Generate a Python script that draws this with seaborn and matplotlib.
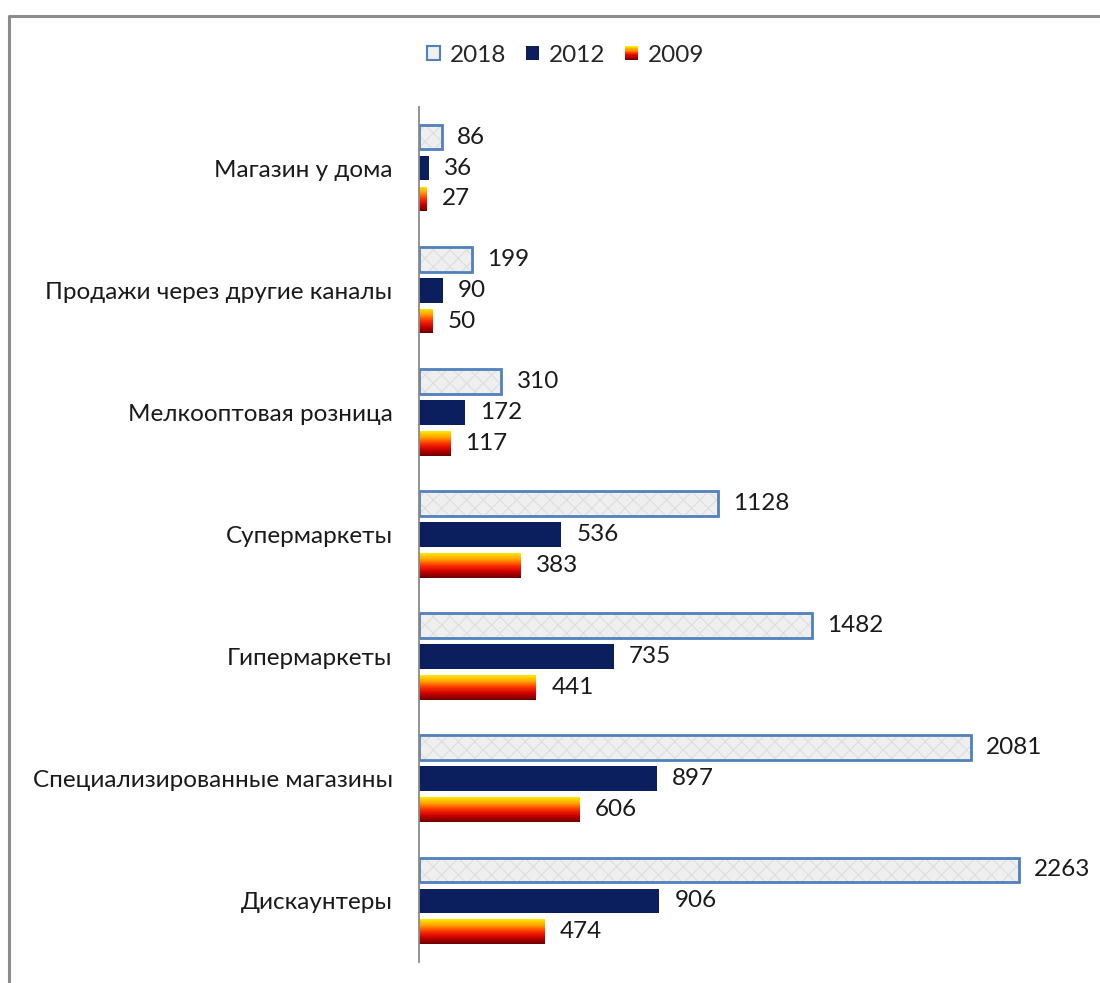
import numpy as np
import pandas as pd
import seaborn as sns
import matplotlib.pyplot as plt
from matplotlib.patches import Rectangle, Patch
from matplotlib.legend_handler import HandlerBase
from matplotlib.colors import LinearSegmentedColormap
from matplotlib.lines import Line2D

categories = [
    "Магазин у дома",
    "Продажи через другие каналы",
    "Мелкооптовая розница",
    "Супермаркеты",
    "Гипермаркеты",
    "Специализированные магазины",
    "Дискаунтеры",
]
years = ["2018", "2012", "2009"]
v2018 = [86, 199, 310, 1128, 1482, 2081, 2263]
v2012 = [36, 90, 172, 536, 735, 897, 906]
v2009 = [27, 50, 117, 383, 441, 606, 474]

df = pd.DataFrame({
    "category": categories * 3,
    "year": np.repeat(years, len(categories)),
    "value": v2018 + v2012 + v2009,
})

light = "#efefef"
edge_blue = "#4f81bd"
navy = "#0b1f5e"
fire = LinearSegmentedColormap.from_list(
    "fire", ["#ffe800", "#ffa200", "#ff3000", "#c80000", "#6e0000"])
fs = 17.5

sns.set_theme(style="white")
plt.rcParams["font.family"] = ["Lato", "DejaVu Sans"]
plt.rcParams["hatch.linewidth"] = 0.8

fig = plt.figure(figsize=(11, 9.83), dpi=100)
ax = fig.add_axes([0.381, 0.0214, 0.619, 0.8698])

sns.barplot(data=df, y="category", x="value", hue="year", hue_order=years,
            order=categories, orient="h", width=0.76, gap=0.2,
            palette=[light, navy, "#ff5000"], errorbar=None, legend=False,
            ax=ax)

c2018, c2012, c2009 = ax.containers

# 2018: pale textured fill with blue outline
for p in c2018.patches:
    p.set_facecolor(light)
    p.set_edgecolor("none")
    x, y, w, h = p.get_x(), p.get_y(), p.get_width(), p.get_height()
    ax.add_patch(Rectangle((x, y), w, h, fill=False, hatch="xx",
                           edgecolor="#dedede", lw=0, zorder=p.get_zorder() + 0.1))
    ax.add_patch(Rectangle((x, y), w, h, fill=False, edgecolor=edge_blue,
                           lw=2, zorder=p.get_zorder() + 0.2))

for p in c2012.patches:
    p.set_facecolor(navy)
    p.set_edgecolor("none")

# 2009: vertical yellow -> dark red gradient
grad = np.linspace(0, 1, 64).reshape(-1, 1)
for p in c2009.patches:
    p.set_facecolor("none")
    p.set_edgecolor("none")
    x, y, w, h = p.get_x(), p.get_y(), p.get_width(), p.get_height()
    im = ax.imshow(grad, cmap=fire, aspect="auto", origin="upper",
                   extent=(x, x + w, y + h, y), zorder=p.get_zorder())
    im.set_clip_path(p)

ax.set_xlim(0, 2569)
ax.set_ylim(6.5, -0.5)

for cont, vals in zip(ax.containers, [v2018, v2012, v2009]):
    for p, v in zip(cont.patches, vals):
        ax.annotate(str(v), (p.get_width(), p.get_y() + p.get_height() / 2),
                    xytext=(11, 0), textcoords="offset points",
                    va="center", ha="left", fontsize=fs, color="#1a1a1a")

ax.set_xlabel("")
ax.set_ylabel("")
ax.set_xticks([])
sns.despine(ax=ax, left=False, bottom=True)
ax.spines["left"].set_color("#8a8a8a")
ax.spines["left"].set_linewidth(1.3)
ax.tick_params(axis="y", length=0, pad=19, labelsize=fs, labelcolor="#1a1a1a")


class GradientHandler(HandlerBase):
    def create_artists(self, legend, orig_handle, xdescent, ydescent,
                       width, height, fontsize, trans):
        n = 12
        arts = []
        for i in range(n):
            arts.append(Rectangle((-xdescent, -ydescent + height * (n - 1 - i) / n),
                                  width, height / n, facecolor=fire(i / (n - 1)),
                                  edgecolor="none", transform=trans))
        return arts


h2018 = Patch(facecolor=light, edgecolor=edge_blue, linewidth=1.5)
h2012 = Patch(facecolor=navy, edgecolor="none")
h2009 = Rectangle((0, 0), 1, 1)
fig.legend([h2018, h2012, h2009], years, loc="center",
           bbox_to_anchor=(0.514, 0.944), ncol=3, frameon=False, fontsize=fs,
           handlelength=0.55, handleheight=0.55, handletextpad=0.4,
           columnspacing=0.8, handler_map={h2009: GradientHandler()})

# grey frame around the chart area
fig.add_artist(Line2D([0.0082, 0.0082, 1.0], [0.0, 0.9837, 0.9837],
                      transform=fig.transFigure, color="#8c8c8c", lw=2.2))

fig.savefig("out.png", dpi=100)
